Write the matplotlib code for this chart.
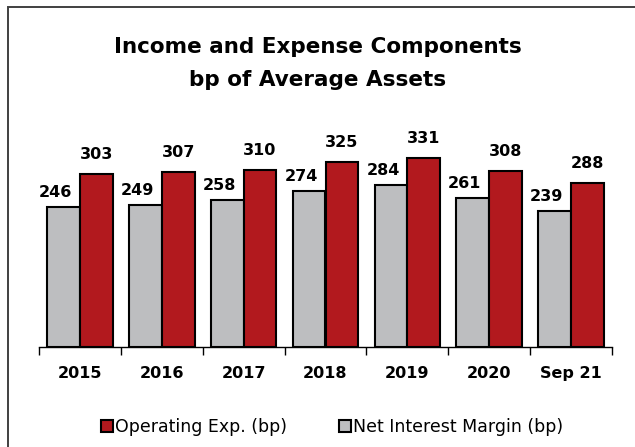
import matplotlib
matplotlib.use("Agg")
import matplotlib.pyplot as plt
from matplotlib.patches import Rectangle
import numpy as np

categories = ["2015", "2016", "2017", "2018", "2019", "2020", "Sep 21"]
nim = [246, 249, 258, 274, 284, 261, 239]
opex = [303, 307, 310, 325, 331, 308, 288]

W, H = 635, 447
fig = plt.figure(figsize=(W / 100, H / 100), dpi=100)
fig.patch.set_facecolor("white")

# border (top and left edges visible)
fig.add_artist(Rectangle((8 / W, -0.1), 1.2, (H - 7) / H + 0.1, transform=fig.transFigure,
                         fill=False, edgecolor="#404040", linewidth=1.4))

left, right, bottom = 39, 612, 347
ymax = 350
ppu = 140.3 / 246
top = bottom - ymax * ppu
ax = fig.add_axes([left / W, 1 - bottom / H, (right - left) / W, (bottom - top) / H])
ax.set_xlim(-0.5, len(categories) - 0.5)
ax.set_ylim(0, ymax)

x = np.arange(len(categories))
bw = 0.4
gray = "#BDBEC0"
red = "#B2191E"
ax.bar(x - bw / 2, nim, bw, color=gray, edgecolor="black", linewidth=1.5, label="Net Interest Margin (bp)", zorder=3)
ax.bar(x + bw / 2, opex, bw, color=red, edgecolor="black", linewidth=1.5, label="Operating Exp. (bp)", zorder=3)

for xi, v in zip(x, nim):
    ax.annotate(str(v), (xi - bw / 2, v), xytext=(-8, 7), textcoords="offset pixels",
                ha="center", va="bottom", fontsize=11.5, fontweight="bold")
for xi, v in zip(x, opex):
    ax.annotate(str(v), (xi + bw / 2, v), xytext=(0, 12), textcoords="offset pixels",
                ha="center", va="bottom", fontsize=11.5, fontweight="bold")

for s in ["top", "right", "left"]:
    ax.spines[s].set_visible(False)
ax.spines["bottom"].set_linewidth(1.0)
ax.set_yticks([])
ax.set_xticks(np.arange(-0.5, len(categories) + 0.5, 1))
ax.set_xticklabels([])
ax.tick_params(axis="x", length=6, width=1.0, direction="out")
ax.set_xticks(x, minor=True)
ax.set_xticklabels(categories, minor=True, fontsize=11.5, fontweight="bold")
ax.tick_params(axis="x", which="minor", length=0, pad=14)

fig.text(318 / W, 1 - 47 / H, "Income and Expense Components", ha="center", va="center",
         fontsize=15.5, fontweight="bold")
fig.text(318 / W, 1 - 80 / H, "bp of Average Assets", ha="center", va="center",
         fontsize=15.5, fontweight="bold")

handles, labels = ax.get_legend_handles_labels()
leg = fig.legend(handles[::-1], labels[::-1], loc="center", bbox_to_anchor=(332 / W, 1 - 427 / H),
                 ncol=2, frameon=False, fontsize=12.5, handlelength=0.7, handleheight=0.7,
                 handletextpad=0.1, columnspacing=3.0)

fig.savefig("out.png", dpi=100, facecolor="white")
